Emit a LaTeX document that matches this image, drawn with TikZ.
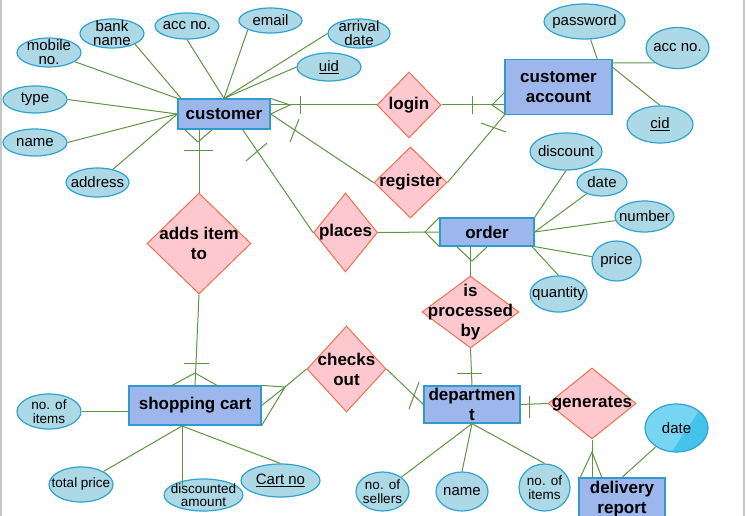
\documentclass[tikz,border=0pt]{standalone}
\usepackage{fontspec}
\setmainfont{Liberation Sans}
\usetikzlibrary{shapes.geometric}

\definecolor{entfill}{HTML}{9DB7EC}
\definecolor{entborder}{HTML}{2E9AD0}
\definecolor{relfill}{HTML}{FFC7CE}
\definecolor{relborder}{HTML}{F0704E}
\definecolor{attrfill}{HTML}{ADD8E6}
\definecolor{attrborder}{HTML}{2FA3D0}
\definecolor{linkgreen}{HTML}{5F9442}
\definecolor{dlight}{HTML}{78D5F2}
\definecolor{ddark}{HTML}{45C3EA}

\tikzset{
  entity/.style={draw=entborder, fill=entfill, line width=1.2pt, inner sep=0pt, align=center, font=\bfseries\fontsize{17}{20}\selectfont},
  relation/.style={diamond, draw=relborder, fill=relfill, line width=1pt, inner sep=0pt},
  reltext/.style={inner sep=0pt, align=center, font=\bfseries\fontsize{17}{20}\selectfont},
  attribute/.style={ellipse, draw=attrborder, fill=attrfill, line width=1.2pt, inner sep=0pt},
  attrtext/.style={inner sep=0pt, align=center, font=\fontsize{15}{14}\selectfont},
  attrsmall/.style={inner sep=0pt, align=center, font=\fontsize{13.5}{13.5}\selectfont},
  link/.style={draw=linkgreen, line width=1pt},
}

\begin{document}
\begin{tikzpicture}[x=1pt,y=-1pt]
    \useasboundingbox (0,0) rectangle (747,516);
    % Drawing window edges
    \fill [gray!45] (0,0) rectangle (2,516);%
    \fill [gray!45] (743,0) rectangle (745,516);%

    % Drawing entities
    \node (cust) [entity, minimum width=92, minimum height=30] at (224,114) {customer};%
    \node (acct) [entity, minimum width=107, minimum height=55] at (558.5,87) {customer\\account};%
    \node (order) [entity, minimum width=94, minimum height=28] at (487,232) {order};%
    \node (cart) [entity, minimum width=132, minimum height=39] at (195,405.5) {shopping cart};%
    \node (dept) [entity, minimum width=96, minimum height=37] at (472,404.5) {departmen\\t};%
    \node (deliv) [entity, minimum width=86, minimum height=42] at (622,499) {delivery\\report};%

    % Drawing relationships
    \node (login) [relation, minimum width=64, minimum height=66, label={[reltext]center:login}] at (409,105) {};%
    \node (reg) [relation, minimum width=73, minimum height=71, label={[reltext]center:register}] at (410.5,182.5) {};%
    \node (places) [relation, minimum width=64, minimum height=79, label={[reltext]center:places}] at (345.5,232.5) {};%
    \node (adds) [relation, minimum width=104, minimum height=101, label={[reltext]center:{adds item\\to}}] at (199,243.5) {};%
    \node (chk) [relation, minimum width=79, minimum height=86, label={[reltext]center:{checks\\out}}] at (346.5,369) {};%
    \node (proc) [relation, minimum width=97, minimum height=72, label={[reltext]center:{is\\processed\\by}}] at (470.5,312) {};%
    \node (gen) [relation, minimum width=88, minimum height=71, label={[reltext]center:generates}] at (592,403.5) {};%

    % Drawing attributes of customer
    \node (mob) [attribute, minimum width=64, minimum height=29, label={[attrtext]center:{mobile\\no.}}] at (49,52.5) {};%
    \node (bank) [attribute, minimum width=64, minimum height=29, label={[attrtext]center:{bank\\name}}] at (112,33.5) {};%
    \node (accc) [attribute, minimum width=64, minimum height=26, label={[attrtext]center:acc no.}] at (187,26) {};%
    \node (email) [attribute, minimum width=63, minimum height=25, label={[attrtext]center:email}] at (270.5,20.5) {};%
    \node (arrival) [attribute, minimum width=62, minimum height=29, label={[attrtext]center:{arrival\\date}}] at (359,33.5) {};%
    \node (uid) [attribute, minimum width=64, minimum height=28, label={[attrtext]center:\underline{uid}}] at (329,67) {};%
    \node (type) [attribute, minimum width=64, minimum height=27, label={[attrtext]center:type}] at (35,99.5) {};%
    \node (cname) [attribute, minimum width=64, minimum height=27, label={[attrtext]center:name}] at (35,142.5) {};%
    \node (addr) [attribute, minimum width=63, minimum height=29, label={[attrtext]center:address}] at (97.5,182.5) {};%

    % Drawing attributes of customer account
    \node (pass) [attribute, minimum width=81, minimum height=35, label={[attrtext]center:password}] at (584.5,21.5) {};%
    \node (acc2) [attribute, minimum width=63, minimum height=41, label={[attrtext]center:acc no.}] at (677.5,48) {};%
    \node (cid) [attribute, minimum width=66, minimum height=37, label={[attrtext]center:\underline{cid}}] at (660,124.5) {};%

    % Drawing attributes of order
    \node (disc) [attribute, minimum width=72, minimum height=37, label={[attrtext]center:discount}] at (566,151.5) {};%
    \node (odate) [attribute, minimum width=50, minimum height=27, label={[attrtext]center:date}] at (602,182.5) {};%
    \node (num) [attribute, minimum width=59, minimum height=31, label={[attrtext]center:number}] at (644.5,216.5) {};%
    \node (price) [attribute, minimum width=49, minimum height=40, label={[attrtext]center:price}] at (616.5,261) {};%
    \node (qty) [attribute, minimum width=57, minimum height=36, label={[attrtext]center:quantity}] at (558.5,294) {};%

    % Drawing attributes of shopping cart
    \node (citems) [attribute, minimum width=64, minimum height=35, label={[attrsmall]center:{no. of\\items}}] at (49,411.5) {};%
    \node (tprice) [attribute, minimum width=64, minimum height=35, label={[attrsmall]center:total price}] at (81,484.5) {};%
    \node (damt) [attribute, minimum width=79, minimum height=32, label={[attrsmall]center:{discounted\\amount}}] at (203.5,495) {};%
    \node (cartno) [attribute, minimum width=79, minimum height=33, label={[attrtext]center:\underline{Cart no}}] at (280.5,480.5) {};%

    % Drawing attributes of department and delivery report
    \node (sellers) [attribute, minimum width=53, minimum height=39, label={[attrsmall]center:{no. of\\sellers}}] at (382.5,491.5) {};%
    \node (dname) [attribute, minimum width=52, minimum height=39, label={[attrtext]center:name}] at (462,491.5) {};%
    \node (ditems) [attribute, minimum width=51, minimum height=47, label={[attrsmall]center:{no. of\\items}}] at (544.5,487.5) {};%
    \node (ddate) [attribute, fill=dlight, minimum width=63, minimum height=48,
        path picture={\fill [ddark, shift={(path picture bounding box.center)}] (51,-60) -- (100,-60) -- (100,66) -- (-33,66) -- cycle;},
        label={[attrtext]center:date}] at (676.5,428) {};%

    % Drawing segments attribute entity
    \draw [link] (mob) -- (cust.north west);%
    \draw [link] (bank.south east) -- (cust.160);%
    \draw [link] (accc.south) -- (cust.north);%
    \draw [link] (email.south west) -- (cust.north);%
    \draw [link] (arrival.west) -- (cust.north);%
    \draw [link] (uid.west) -- (cust.north);%
    \draw [link] (type.east) -- (cust.west);%
    \draw [link] (cname.east) -- (cust.west);%
    \draw [link] (addr) -- (cust.west);%
    \draw [link] (pass) -- (acct.36);%
    \draw [link] (acc2.south west) -- (acct.24);%
    \draw [link] (cid.north) -- (acct.20);%
    \draw [link] (disc.south) -- (order.north east);%
    \draw [link] (odate) -- (order.east);%
    \draw [link] (num) -- (order.east);%
    \draw [link] (price) -- (order.south east);%
    \draw [link] (qty.north) -- (order.-18);%
    \coordinate (cartsouth) at (182,426);%
    \coordinate (damtend) at (182,486);%
    \draw [link] (citems.east) -- (citems.east -| cart.west);%
    \draw [link] (tprice) -- (cartsouth);%
    \draw [link] (cartsouth) -- (damtend);%
    \draw [link] (cartno.north) -- (cartsouth);%
    \draw [link] (sellers) -- (dept.south);%
    \draw [link] (dname.north) -- (dept.south);%
    \draw [link] (ditems.north) -- (dept.south);%
    \draw [link] (ddate) -- (deliv.north);%

    % Drawing segment customer login
    \draw [link] (cust.east |- login.west) -- (login.west);%
    \draw [link] (cust.north east) -- (290,105) -- (cust.east);%
    \draw [link] (300,96) -- (300,114);%

    % Drawing segment login account
    \draw [link] (login.east) -- (acct.west |- login.east);%
    \draw [link] (505,92) -- (492,105) -- (505,114);%
    \draw [link] (472,96) -- (472,114);%

    % Drawing segment customer register account
    \draw [link] (cust.east) -- (reg.west);%
    \draw [link] (290,142) -- (299,119);%
    \draw [link] (reg.east) -- (acct.south west);%
    \draw [link] (481,123) -- (506,132);%

    % Drawing segment customer places order
    \draw [link] (cust.-40) -- (places.west);%
    \draw [link] (246,161) -- (267,143);%
    \draw [link] (places.east) -- (order.west);%
    \draw [link] (order.north west) -- (425,232) -- (order.south west);%

    % Drawing segment order department
    \draw [link] (proc.north |- order.south) -- (proc.north);%
    \draw [link] (457,247) -- (472,261) -- (487,247);%
    \draw [link] (proc.south) -- (dept.north);%
    \draw [link] (457,373) -- (482,373);%

    % Drawing segment department delivery report
    \draw [link] (dept.east) -- (gen.west);%
    \draw [link] (529,396) -- (529,418);%
    \draw [link] (gen.south) -- (gen.south |- deliv.north);%
    \draw [link] (580,478) -- (592,452) -- (602,478);%

    % Drawing segment customer shopping cart
    \draw [link] (adds.north |- cust.south) -- (adds.north);%
    \draw [link] (184,129) -- (198,142) -- (213,129);%
    \draw [link] (184,151) -- (213,151);%
    \draw [link] (adds.south) -- (cart.north);%
    \draw [link] (184,363) -- (209,363);%
    \draw [link] (171,386) -- (195,373) -- (218,386);%

    % Drawing segment shopping cart department
    \coordinate (cartjoint) at (285,387);%
    \draw [link] (cart.north east) -- (cartjoint) -- (chk.west);%
    \draw [link] (cart.east) -- (cartjoint) -- (cart.south east);%
    \draw [link] (chk.east) -- (dept.west);%
    \draw [link] (409,409) -- (419,382);%
\end{tikzpicture}
\end{document}
